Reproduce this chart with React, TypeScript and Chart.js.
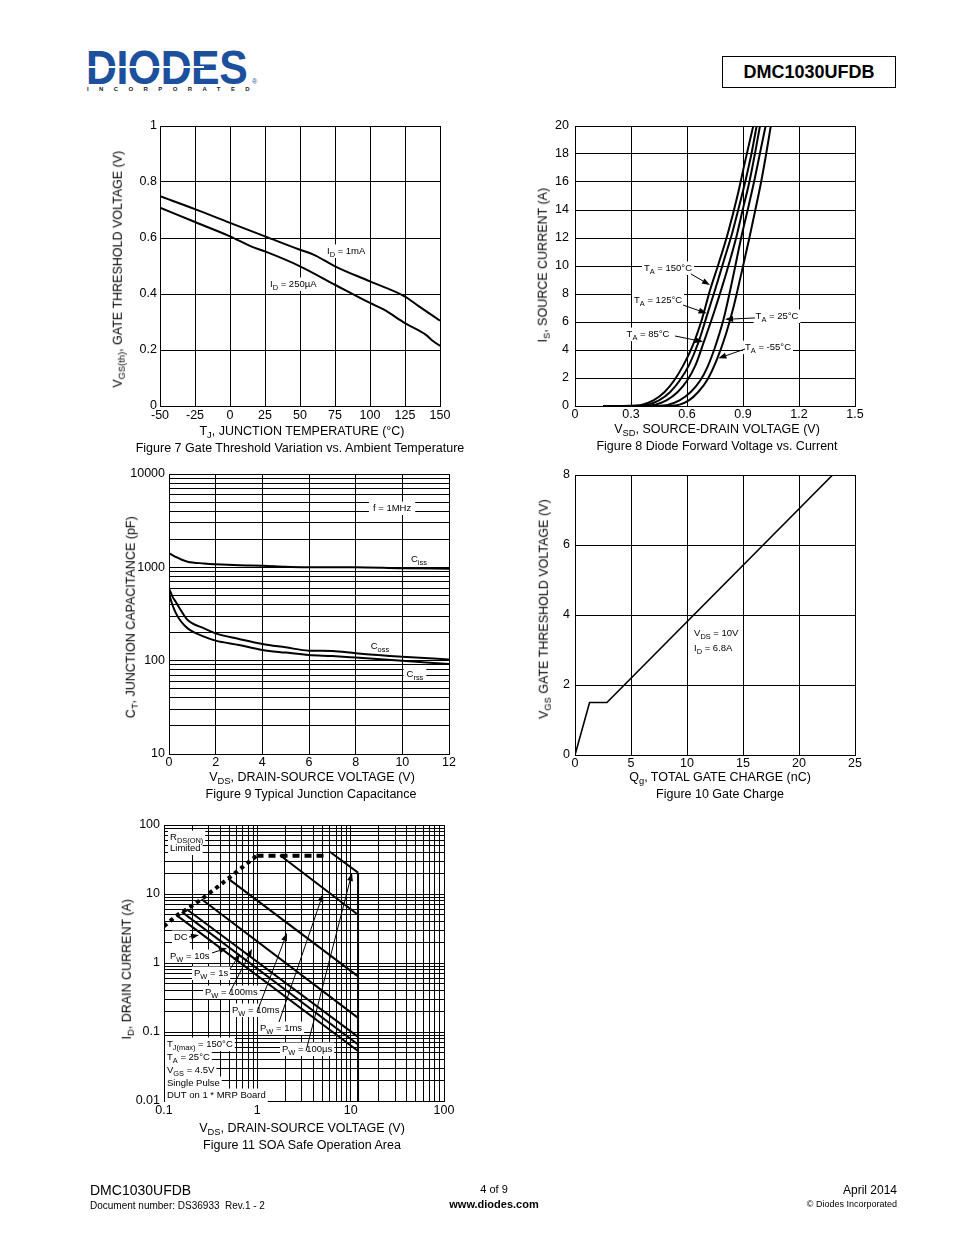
import React, { useEffect, useRef } from 'react';
import { Chart, registerables } from 'chart.js';

Chart.register(...registerables);

const FONT = '"Liberation Sans", Arial, Helvetica, sans-serif';
const TICK_SIZE = 12.5;
const NOTE_SIZE = 9.5;
const TITLE_SIZE = 12.5;

// ===== Figure 7: Gate threshold vs temperature =====
const fig7TempA = [-50, -25, 0, 25, 50, 60, 75, 100, 125, 135, 150];
const fig7Vth1mA = [0.749, 0.703, 0.654, 0.606, 0.558, 0.54, 0.499, 0.445, 0.391, 0.356, 0.305];
const fig7TempB = [-50, -25, 0, 15, 25, 50, 75, 100, 110, 125, 140, 145, 150];
const fig7Vth250uA = [0.708, 0.657, 0.606, 0.57, 0.552, 0.499, 0.433, 0.368, 0.344, 0.296, 0.254, 0.232, 0.215];

// ===== Figure 8: Diode forward voltage vs current =====
const fig8V150 = [0.15, 0.3, 0.36, 0.42, 0.48, 0.53, 0.58, 0.63, 0.68, 0.724, 0.77, 0.82, 0.87, 0.91, 0.955];
const fig8I150 = [0, 0.02, 0.1, 0.4, 1.0, 1.8, 2.9, 4.3, 6.2, 8.3, 10.2, 12.4, 15.0, 17.4, 20];
const fig8V125 = [0.2, 0.33, 0.39, 0.45, 0.51, 0.56, 0.61, 0.66, 0.71, 0.755, 0.8, 0.843, 0.88, 0.915, 0.945, 0.973];
const fig8I125 = [0, 0.02, 0.1, 0.4, 1.0, 1.8, 2.9, 4.5, 6.6, 8.5, 10.5, 12.4, 14.3, 16.2, 18.0, 20];
const fig8V85 = [0.25, 0.37, 0.43, 0.49, 0.55, 0.6, 0.645, 0.69, 0.74, 0.79, 0.83, 0.863, 0.9, 0.934, 0.965, 0.991];
const fig8I85 = [0, 0.02, 0.1, 0.4, 1.0, 1.8, 2.9, 4.57, 6.5, 8.6, 10.4, 12.0, 14.1, 16.0, 18.1, 20];
const fig8V25 = [0.3, 0.44, 0.5, 0.56, 0.62, 0.67, 0.71, 0.75, 0.795, 0.84, 0.89, 0.925, 0.959, 0.99, 1.021];
const fig8I25 = [0, 0.02, 0.1, 0.4, 1.0, 1.8, 2.8, 4.2, 6.16, 8.8, 12.0, 14.0, 16.0, 18.0, 20];
const fig8Vm55 = [0.35, 0.5, 0.56, 0.61, 0.66, 0.71, 0.762, 0.81, 0.85, 0.89, 0.934, 0.966, 0.997, 1.024, 1.049];
const fig8Im55 = [0, 0.02, 0.1, 0.4, 1.0, 1.9, 3.39, 5.2, 7.1, 9.4, 12.0, 14.0, 16.0, 18.0, 20];

// ===== Figure 9: Junction capacitance =====
const fig9Vds = [0, 0.15, 0.3, 0.5, 0.8, 1.5, 2, 3, 4, 5, 6, 7, 8, 10, 12];
const fig9Ciss = [1413, 1350, 1290, 1220, 1150, 1100, 1077, 1050, 1042, 1015, 1003, 1000, 1000, 975, 968];
const fig9Coss = [596, 485, 422, 349, 273, 222, 196, 171, 151, 139, 128, 127, 120, 110, 103];
const fig9Crss = [525, 395, 321, 266, 222, 181, 164, 147, 130, 122, 115, 112, 108, 100, 92];
const fig9YMajor = [10, 100, 1000, 10000];
const fig9YLabels = ['10', '100', '1000', '10000'];

// ===== Figure 10: Gate charge =====
const fig10Qg = [0, 1.3, 2.85, 23.0];
const fig10Vgs = [0, 1.5, 1.5, 8.0];

// ===== Figure 11: SOA =====
const fig11RdsV = [0.1, 0.137, 0.175, 0.253, 0.487, 0.98];
const fig11RdsI = [3.4, 4.9, 6.0, 8.4, 16.7, 35.7];
const fig11FlatV = [0.98, 5.6];
const fig11FlatI = [35.7, 35.7];
const fig11Pulse = ['100µs', '1ms', '10ms', '100ms', '1s', '10s', 'DC'];
const fig11StartV = [5.98, 1.75, 0.487, 0.253, 0.175, 0.155, 0.137];
const fig11StartI = [41, 36.5, 16.7, 8.4, 6.0, 5.5, 4.9];
const fig11EndV = [12, 12, 12, 12, 12, 12, 12];
const fig11EndI = [20.4, 5.0, 0.64, 0.16, 0.085, 0.066, 0.053];
const fig11LimitV = [12, 12];
const fig11LimitI = [20.4, 0.01];
const fig11XMajor = [0.1, 1, 10, 100];
const fig11XLabels = ['0.1', '1', '10', '100'];
const fig11YMajor = [0.01, 0.1, 1, 10, 100];
const fig11YLabels = ['0.01', '0.1', '1', '10', '100'];

const logSteps = [1, 2, 3, 4, 5, 6, 7, 8, 9];

// ---------- helpers ----------
type Rect = { l: number; t: number; r: number; b: number };
const PAD = { l: 52, t: 14, r: 24, b: 26 };

const pts = (xs: number[], ys: number[]) => xs.map((x, i) => ({ x, y: ys[i] }));

function logGrid(major: number[]) {
  const out: number[] = [];
  for (let i = 0; i < major.length - 1; i++) {
    for (const m of logSteps) out.push(+(major[i] * m).toPrecision(6));
  }
  out.push(major[major.length - 1]);
  return out;
}

function parseRich(s: string) {
  const out: { t: string; sub: boolean }[] = [];
  const re = /_\{([^}]*)\}/g;
  let last = 0;
  let m: RegExpExecArray | null;
  while ((m = re.exec(s))) {
    if (m.index > last) out.push({ t: s.slice(last, m.index), sub: false });
    out.push({ t: m[1], sub: true });
    last = re.lastIndex;
  }
  if (last < s.length) out.push({ t: s.slice(last), sub: false });
  return out;
}

function richWidth(ctx: CanvasRenderingContext2D, s: string, size: number) {
  let w = 0;
  for (const g of parseRich(s)) {
    ctx.font = `${g.sub ? size * 0.78 : size}px ${FONT}`;
    w += ctx.measureText(g.t).width;
  }
  return w;
}

function drawRich(ctx: CanvasRenderingContext2D, s: string, x: number, y: number, size: number) {
  const base = y + size * 0.358;
  let cx = x;
  ctx.textAlign = 'left';
  ctx.textBaseline = 'alphabetic';
  ctx.fillStyle = '#000';
  for (const g of parseRich(s)) {
    ctx.font = `${g.sub ? size * 0.78 : size}px ${FONT}`;
    ctx.fillText(g.t, cx, g.sub ? base + size * 0.28 : base);
    cx += ctx.measureText(g.t).width;
  }
}

type Note = { text: string; x: number; y: number; align?: 'left' | 'center'; bg?: boolean; pad?: number };
type Arrow = { from: [number, number]; to: [number, number] };

function notesPlugin(notes: Note[], arrows: Arrow[], size = NOTE_SIZE) {
  return {
    id: 'notes',
    afterDatasetsDraw(chart: any) {
      const ctx: CanvasRenderingContext2D = chart.ctx;
      const sx = chart.scales.x;
      const sy = chart.scales.y;
      ctx.save();
      const placed = notes.map((n) => {
        const w = richWidth(ctx, n.text, size);
        const px = sx.getPixelForValue(n.x);
        const py = sy.getPixelForValue(n.y);
        const x0 = n.align === 'center' ? px - w / 2 : px;
        return { n, w, x0, py };
      });
      for (const p of placed) {
        if (!p.n.bg) continue;
        const pad = p.n.pad ?? 2;
        ctx.fillStyle = '#fff';
        ctx.fillRect(p.x0 - pad, p.py - size * 0.68, p.w + pad * 2, size * 1.42);
      }
      ctx.strokeStyle = '#000';
      ctx.fillStyle = '#000';
      ctx.lineWidth = 1;
      for (const a of arrows) {
        const x1 = sx.getPixelForValue(a.from[0]);
        const y1 = sy.getPixelForValue(a.from[1]);
        const x2 = sx.getPixelForValue(a.to[0]);
        const y2 = sy.getPixelForValue(a.to[1]);
        const ang = Math.atan2(y2 - y1, x2 - x1);
        const L = 8;
        const Wd = 3;
        const bx = x2 - L * Math.cos(ang);
        const by = y2 - L * Math.sin(ang);
        ctx.beginPath();
        ctx.moveTo(x1, y1);
        ctx.lineTo(bx, by);
        ctx.stroke();
        ctx.beginPath();
        ctx.moveTo(x2, y2);
        ctx.lineTo(bx + Wd * Math.sin(ang), by - Wd * Math.cos(ang));
        ctx.lineTo(bx - Wd * Math.sin(ang), by + Wd * Math.cos(ang));
        ctx.closePath();
        ctx.fill();
      }
      for (const p of placed) drawRich(ctx, p.n.text, p.x0, p.py, size);
      ctx.restore();
    },
  };
}

const GRID = { color: '#000', lineWidth: 1, drawTicks: false };
const BORDER = { display: true, color: '#000', width: 1 };

function fitFor(axis: 'x' | 'y') {
  return axis === 'x'
    ? (s: any) => {
        s.height = PAD.b;
      }
    : (s: any) => {
        s.width = PAD.l;
      };
}

function linAxis(axis: 'x' | 'y', min: number, max: number, step: number, pad: number) {
  return {
    type: 'linear',
    min,
    max,
    grid: GRID,
    border: BORDER,
    ticks: {
      stepSize: step,
      padding: pad,
      color: '#000',
      font: { family: FONT, size: TICK_SIZE },
      autoSkip: false,
      maxRotation: 0,
      callback: (v: number) => String(Number(Number(v).toFixed(3))),
    },
    afterFit: fitFor(axis),
  };
}

function logAxis(axis: 'x' | 'y', major: number[], labels: string[], pad: number) {
  const grid = logGrid(major);
  return {
    type: 'logarithmic',
    min: major[0],
    max: major[major.length - 1],
    grid: GRID,
    border: BORDER,
    afterBuildTicks: (s: any) => {
      s.ticks = grid.map((v) => ({ value: v }));
    },
    ticks: {
      padding: pad,
      color: '#000',
      font: { family: FONT, size: TICK_SIZE },
      autoSkip: false,
      maxRotation: 0,
      callback: (v: number) => {
        const i = major.findIndex((m) => Math.abs(v - m) / m < 1e-6);
        return i >= 0 ? labels[i] : '';
      },
    },
    afterFit: fitFor(axis),
  };
}

function baseOptions(x: any, y: any) {
  return {
    responsive: false,
    maintainAspectRatio: false,
    animation: false,
    devicePixelRatio: 1,
    events: [],
    layout: { padding: { left: 0, top: PAD.t, right: PAD.r, bottom: 0 } },
    plugins: { legend: { display: false }, tooltip: { enabled: false } },
    elements: { point: { radius: 0 }, line: { borderColor: '#000', borderWidth: 2 } },
    scales: { x, y },
  };
}

function ChartBox({ plot, make }: { plot: Rect; make: () => any }) {
  const ref = useRef<HTMLCanvasElement>(null);
  const w = plot.r - plot.l + PAD.l + PAD.r;
  const h = plot.b - plot.t + PAD.t + PAD.b;
  useEffect(() => {
    const chart = new Chart(ref.current as HTMLCanvasElement, make());
    return () => chart.destroy();
  }, []);
  return (
    <canvas
      ref={ref}
      width={w}
      height={h}
      style={{ position: 'absolute', left: plot.l - PAD.l, top: plot.t - PAD.t, width: w, height: h }}
    />
  );
}

function Rich({ s }: { s: string }) {
  return (
    <>
      {parseRich(s).map((g, i) =>
        g.sub ? (
          <sub key={i} style={{ fontSize: '0.75em', verticalAlign: '-0.3em', lineHeight: 0 }}>
            {g.t}
          </sub>
        ) : (
          <span key={i}>{g.t}</span>
        )
      )}
    </>
  );
}

function Txt(props: {
  s: string;
  x: number;
  y: number;
  size: number;
  anchor?: 'start' | 'middle' | 'end';
  rot?: boolean;
  bold?: boolean;
  color?: string;
  spacing?: number;
}) {
  const { s, x, y, size, anchor = 'middle', rot = false, bold = false, color = '#000', spacing } = props;
  const W = 600;
  const left = anchor === 'middle' ? x - W / 2 : anchor === 'start' ? x : x - W;
  return (
    <div
      style={{
        position: 'absolute',
        left,
        top: y - size / 2,
        width: W,
        height: size,
        lineHeight: `${size}px`,
        fontSize: size,
        fontFamily: FONT,
        fontWeight: bold ? 700 : 400,
        color,
        textAlign: anchor === 'middle' ? 'center' : anchor === 'start' ? 'left' : 'right',
        whiteSpace: 'pre',
        letterSpacing: spacing,
        transform: rot ? 'rotate(-90deg)' : undefined,
      }}
    >
      <Rich s={s} />
    </div>
  );
}

// ---------- chart configs ----------
const fig7Plot: Rect = { l: 160, t: 126, r: 440, b: 406 };
const fig8Plot: Rect = { l: 575, t: 126, r: 855, b: 406 };
const fig9Plot: Rect = { l: 169, t: 474, r: 449, b: 754 };
const fig10Plot: Rect = { l: 575, t: 475, r: 855, b: 755 };
const fig11Plot: Rect = { l: 164, t: 825, r: 444, b: 1101 };

const makeFig7 = () => ({
  type: 'line',
  data: {
    datasets: [
      { data: pts(fig7TempA, fig7Vth1mA), cubicInterpolationMode: 'monotone' },
      { data: pts(fig7TempB, fig7Vth250uA), cubicInterpolationMode: 'monotone' },
    ],
  },
  options: baseOptions(linAxis('x', -50, 150, 25, 2), linAxis('y', 0, 1, 0.2, 3)),
  plugins: [
    notesPlugin(
      [
        { text: 'I_{D} = 1mA', x: 69.3, y: 0.554, bg: true },
        { text: 'I_{D} = 250µA', x: 28.6, y: 0.436, bg: true },
      ],
      []
    ),
  ],
});

const makeFig8 = () => ({
  type: 'line',
  data: {
    datasets: [
      { data: pts(fig8V150, fig8I150), cubicInterpolationMode: 'monotone' },
      { data: pts(fig8V125, fig8I125), cubicInterpolationMode: 'monotone' },
      { data: pts(fig8V85, fig8I85), cubicInterpolationMode: 'monotone' },
      { data: pts(fig8V25, fig8I25), cubicInterpolationMode: 'monotone' },
      { data: pts(fig8Vm55, fig8Im55), cubicInterpolationMode: 'monotone' },
    ],
  },
  options: baseOptions(linAxis('x', 0, 1.5, 0.3, 1), linAxis('y', 0, 20, 2, 6)),
  plugins: [
    notesPlugin(
      [
        { text: 'T_{A} = 150°C', x: 0.498, y: 9.86, align: 'center', bg: true },
        { text: 'T_{A} = 125°C', x: 0.445, y: 7.57, align: 'center', bg: true },
        { text: 'T_{A} = 85°C', x: 0.391, y: 5.14, align: 'center', bg: true },
        { text: 'T_{A} = 25°C', x: 1.082, y: 6.43, align: 'center', bg: true },
        { text: 'T_{A} = -55°C', x: 1.034, y: 4.21, align: 'center', bg: true },
      ],
      [
        { from: [0.621, 9.43], to: [0.723, 8.64] },
        { from: [0.579, 7.21], to: [0.705, 6.62] },
        { from: [0.536, 5.0], to: [0.687, 4.59] },
        { from: [0.964, 6.29], to: [0.804, 6.19] },
        { from: [0.911, 4.07], to: [0.768, 3.41] },
      ]
    ),
  ],
});

const makeFig9 = () => ({
  type: 'line',
  data: {
    datasets: [
      { data: pts(fig9Vds, fig9Ciss), cubicInterpolationMode: 'monotone' },
      { data: pts(fig9Vds, fig9Coss), cubicInterpolationMode: 'monotone' },
      { data: pts(fig9Vds, fig9Crss), cubicInterpolationMode: 'monotone' },
    ],
  },
  options: baseOptions(linAxis('x', 0, 12, 2, 1), logAxis('y', fig9YMajor, fig9YLabels, 4)),
  plugins: [
    notesPlugin(
      [
        { text: 'f = 1MHz', x: 9.56, y: 4325, align: 'center', bg: true, pad: 4 },
        { text: 'C_{iss}', x: 10.71, y: 1228, align: 'center' },
        { text: 'C_{oss}', x: 9.04, y: 143.6, align: 'center' },
        { text: 'C_{rss}', x: 10.54, y: 72, align: 'center', bg: true, pad: 3 },
      ],
      []
    ),
  ],
});

const makeFig10 = () => ({
  type: 'line',
  data: { datasets: [{ data: pts(fig10Qg, fig10Vgs), borderWidth: 1.6 }] },
  options: baseOptions(linAxis('x', 0, 25, 5, 1), linAxis('y', 0, 8, 2, 5)),
  plugins: [
    notesPlugin(
      [
        { text: 'V_{DS} = 10V', x: 10.63, y: 3.486 },
        { text: 'I_{D} = 6.8A', x: 10.63, y: 3.057 },
      ],
      []
    ),
  ],
});

const makeFig11 = () => ({
  type: 'line',
  data: {
    datasets: [
      { data: pts(fig11RdsV, fig11RdsI), borderWidth: 4, borderDash: [4, 4] },
      { data: pts(fig11FlatV, fig11FlatI), borderWidth: 4, borderDash: [7, 5] },
      ...fig11Pulse.map((_, i) => ({
        data: pts([fig11StartV[i], fig11EndV[i]], [fig11StartI[i], fig11EndI[i]]),
        borderWidth: 2,
      })),
      { data: pts(fig11LimitV, fig11LimitI), borderWidth: 2 },
    ],
  },
  options: baseOptions(logAxis('x', fig11XMajor, fig11XLabels, 2), logAxis('y', fig11YMajor, fig11YLabels, 4)),
  plugins: [
    notesPlugin(
      [
        { text: 'R_{DS(ON)}', x: 0.116, y: 66.9, bg: true },
        { text: 'Limited', x: 0.116, y: 46.4, bg: true },
        { text: 'DC', x: 0.128, y: 2.381, bg: true },
        { text: 'P_{W} = 10s', x: 0.116, y: 1.263, bg: true },
        { text: 'P_{W} = 1s', x: 0.2096, y: 0.716, bg: true },
        { text: 'P_{W} = 100ms', x: 0.2751, y: 0.38, bg: true },
        { text: 'P_{W} = 10ms', x: 0.5355, y: 0.2084, bg: true },
        { text: 'P_{W} = 1ms', x: 1.068, y: 0.1143, bg: true },
        { text: 'P_{W} = 100µs', x: 1.838, y: 0.0567, bg: true },
        { text: 'T_{J(max)} = 150°C', x: 0.1077, y: 0.067, bg: true },
        { text: 'T_{A} = 25°C', x: 0.1077, y: 0.0434, bg: true },
        { text: 'V_{GS} = 4.5V', x: 0.1077, y: 0.0281, bg: true },
        { text: 'Single Pulse', x: 0.1077, y: 0.01823, bg: true },
        { text: 'DUT on 1 * MRP Board', x: 0.1077, y: 0.01222, bg: true },
      ],
      [
        { from: [0.1853, 2.381], to: [0.2371, 2.546] },
        { from: [0.3268, 1.396], to: [0.4732, 1.65] },
        { from: [0.5095, 0.8184], to: [0.652, 1.35] },
        { from: [0.4971, 0.3554], to: [0.8767, 1.595] },
        { from: [0.9919, 0.195], to: [2.079, 2.722] },
        { from: [1.707, 0.1396], to: [5.053, 10.0] },
        { from: [3.323, 0.053], to: [10.33, 20.15] },
      ]
    ),
  ],
});

export default function App() {
  return (
    <div
      style={{
        position: 'absolute',
        left: 0,
        top: 0,
        width: 954,
        height: 1235,
        overflow: 'hidden',
        background: '#fff',
        fontFamily: FONT,
      }}
    >
      {/* Header logo */}
      <div
        style={{
          position: 'absolute',
          left: 86,
          top: 43.5,
          fontSize: 47.5,
          lineHeight: '47.5px',
          fontWeight: 700,
          color: '#1c4f9c',
          fontFamily: FONT,
          transform: 'scaleX(0.9)',
          transformOrigin: 'left center',
          letterSpacing: -0.5,
          whiteSpace: 'pre',
        }}
      >
        DIODES
      </div>
      <div style={{ position: 'absolute', left: 86, top: 66, width: 118, height: 2, background: '#fff' }} />
      <Txt s="®" x={252} y={81} size={7} anchor="start" color="#1c4f9c" />
      <Txt s="INCORPORATED" x={87} y={89} size={6} anchor="start" bold spacing={10.4} color="#222" />

      {/* Part number box */}
      <div
        style={{
          position: 'absolute',
          left: 722,
          top: 56,
          width: 174,
          height: 32,
          boxSizing: 'border-box',
          border: '1.5px solid #000',
        }}
      />
      <Txt s="DMC1030UFDB" x={809} y={72} size={18} bold />

      {/* Charts */}
      <ChartBox plot={fig7Plot} make={makeFig7} />
      <ChartBox plot={fig8Plot} make={makeFig8} />
      <ChartBox plot={fig9Plot} make={makeFig9} />
      <ChartBox plot={fig10Plot} make={makeFig10} />
      <ChartBox plot={fig11Plot} make={makeFig11} />

      {/* Figure 7 texts */}
      <Txt s="V_{GS(th)}, GATE THRESHOLD VOLTAGE (V)" x={118} y={269} size={TITLE_SIZE} rot />
      <Txt s="T_{J}, JUNCTION TEMPERATURE (°C)" x={302} y={431} size={TITLE_SIZE} />
      <Txt s="Figure 7 Gate Threshold Variation vs. Ambient Temperature" x={300} y={448} size={TITLE_SIZE} />

      {/* Figure 8 texts */}
      <Txt s="I_{S}, SOURCE CURRENT (A)" x={543} y={265} size={TITLE_SIZE} rot />
      <Txt s="V_{SD}, SOURCE-DRAIN VOLTAGE (V)" x={717} y={429} size={TITLE_SIZE} />
      <Txt s="Figure 8 Diode Forward Voltage vs. Current" x={717} y={446} size={TITLE_SIZE} />

      {/* Figure 9 texts */}
      <Txt s="C_{T}, JUNCTION CAPACITANCE (pF)" x={131} y={617} size={TITLE_SIZE} rot />
      <Txt s="V_{DS}, DRAIN-SOURCE VOLTAGE (V)" x={312} y={777} size={TITLE_SIZE} />
      <Txt s="Figure 9 Typical Junction Capacitance" x={311} y={794} size={TITLE_SIZE} />

      {/* Figure 10 texts */}
      <Txt s="V_{GS} GATE THRESHOLD VOLTAGE (V)" x={544} y={609} size={TITLE_SIZE} rot />
      <Txt s="Q_{g}, TOTAL GATE CHARGE (nC)" x={720} y={777} size={TITLE_SIZE} />
      <Txt s="Figure 10 Gate Charge" x={720} y={794} size={TITLE_SIZE} />

      {/* Figure 11 texts */}
      <Txt s="I_{D}, DRAIN CURRENT (A)" x={127} y={969} size={TITLE_SIZE} rot />
      <Txt s="V_{DS}, DRAIN-SOURCE VOLTAGE (V)" x={302} y={1128} size={TITLE_SIZE} />
      <Txt s="Figure 11 SOA Safe Operation Area" x={302} y={1145} size={TITLE_SIZE} />

      {/* Footer */}
      <Txt s="DMC1030UFDB" x={90} y={1190} size={14} anchor="start" />
      <Txt s="Document number: DS36933  Rev.1 - 2" x={90} y={1206} size={10} anchor="start" />
      <Txt s="4 of 9" x={494} y={1189} size={11} />
      <Txt s="www.diodes.com" x={494} y={1204} size={11} bold />
      <Txt s="April 2014" x={897} y={1190} size={12} anchor="end" />
      <Txt s="© Diodes Incorporated" x={897} y={1204} size={9} anchor="end" />
    </div>
  );
}
